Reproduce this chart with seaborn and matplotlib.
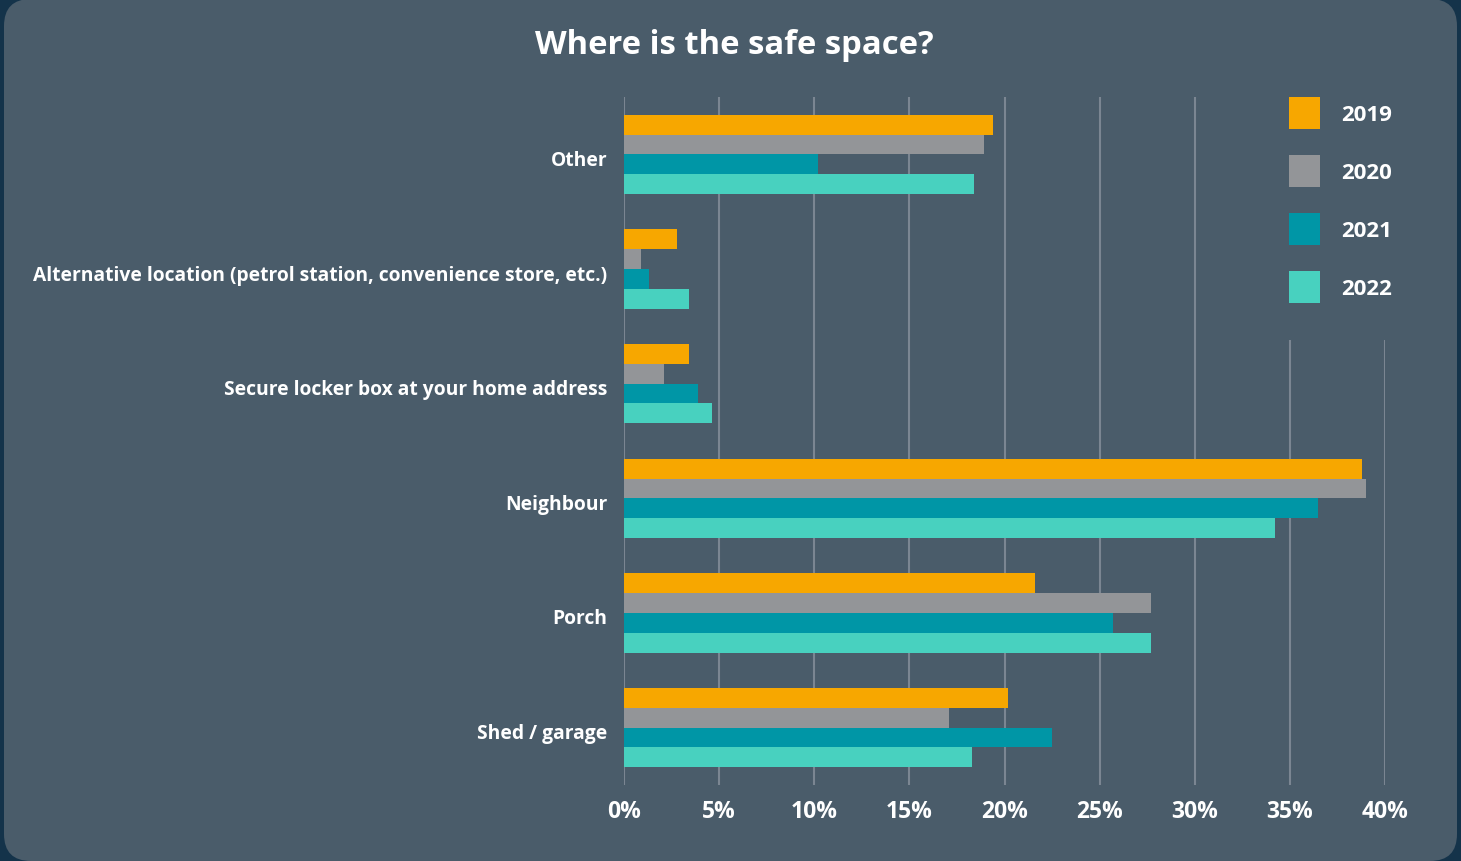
import matplotlib
matplotlib.use("Agg")
import matplotlib.pyplot as plt
from matplotlib.patches import FancyBboxPatch, Patch
from matplotlib.transforms import ScaledTranslation
import numpy as np
import pandas as pd
import seaborn as sns

# Survey results: preferred safe place for parcel delivery (% of respondents)
categories = [
    "Other",
    "Alternative location (petrol station, convenience store, etc.)",
    "Secure locker box at your home address",
    "Neighbour",
    "Porch",
    "Shed / garage",
]
years = ["2019", "2020", "2021", "2022"]
v2019 = [19.4, 2.8, 3.4, 38.8, 21.6, 20.2]
v2020 = [18.9, 0.9, 2.1, 39.0, 27.7, 17.1]
v2021 = [10.2, 1.3, 3.9, 36.5, 25.7, 22.5]
v2022 = [18.4, 3.4, 4.6, 34.2, 27.7, 18.3]
x_ticks = [0, 5, 10, 15, 20, 25, 30, 35, 40]

colors = ["#F7A700", "#939598", "#0096A6", "#48D1BF"]
panel_color = "#4A5C6A"
backdrop_color = "#14334A"
grid_color = "#7B8692"

df = pd.DataFrame({
    "category": categories * 4,
    "year": [y for y in years for _ in categories],
    "value": v2019 + v2020 + v2021 + v2022,
})

sns.set_theme(style="white")
plt.rcParams["font.family"] = ["Open Sans", "DejaVu Sans"]
plt.rcParams["font.weight"] = "bold"

W, H, DPI = 1461, 862, 100
fig = plt.figure(figsize=(W / DPI, H / DPI), dpi=DPI)
fig.patch.set_facecolor(backdrop_color)

# rounded card behind the chart
card = FancyBboxPatch(
    (4 / DPI, 0.0), 1453 / DPI, 862 / DPI,
    boxstyle="round,pad=0,rounding_size=0.27",
    transform=fig.dpi_scale_trans, facecolor=panel_color, edgecolor="none",
    zorder=0,
)
fig.add_artist(card)

ax = fig.add_axes([624 / W, 1 - 786 / H, (1385 - 624) / W, (786 - 98) / H])
ax.set_facecolor("none")

sns.barplot(
    data=df, y="category", x="value", hue="year", orient="h",
    palette=colors, width=0.69, saturation=1, legend=False, ax=ax,
    linewidth=0, zorder=3,
)

ax.set_xlim(0, 40)
ax.set_xticks(x_ticks)
ax.set_xticklabels([f"{t}%" for t in x_ticks])
ax.set_xlabel("")
ax.set_ylabel("")
for s in ax.spines.values():
    s.set_visible(False)
ax.grid(axis="x", color=grid_color, linewidth=1.5, zorder=0)
ax.grid(axis="y", visible=False)
ax.set_axisbelow(True)
ax.tick_params(axis="both", length=0, colors="white")
ax.tick_params(axis="x", pad=10, labelsize=16.5)
ax.tick_params(axis="y", pad=12, labelsize=13.9)
for lab in ax.get_xticklabels() + ax.get_yticklabels():
    lab.set_fontweight("bold")
    lab.set_color("white")
# category labels sit slightly below the group centre
shift = ScaledTranslation(0, -3 / DPI, fig.dpi_scale_trans)
for lab in ax.get_yticklabels():
    lab.set_transform(lab.get_transform() + shift)

fig.text(734 / W, 1 - 46 / H, "Where is the safe space?", ha="center", va="center",
         color="white", fontsize=23.6, fontweight="bold")

handles = [Patch(facecolor=c, edgecolor="none", label=y) for c, y in zip(colors, years)]
fs = 16
fs_px = fs * DPI / 72
leg = ax.legend(
    handles=handles, loc="upper left",
    bbox_to_anchor=(1252 / W, 1 - 61 / H), bbox_transform=fig.transFigure,
    borderaxespad=0, fontsize=fs, frameon=True, fancybox=False,
    facecolor=panel_color, edgecolor="none", framealpha=1,
    handlelength=31 / fs_px, handleheight=1.84,
    labelspacing=26 / fs_px, handletextpad=21 / fs_px, borderpad=37 / fs_px,
)
for t in leg.get_texts():
    t.set_color("white")
    t.set_fontweight("bold")

fig.savefig("out.png", dpi=DPI, facecolor=fig.get_facecolor())
